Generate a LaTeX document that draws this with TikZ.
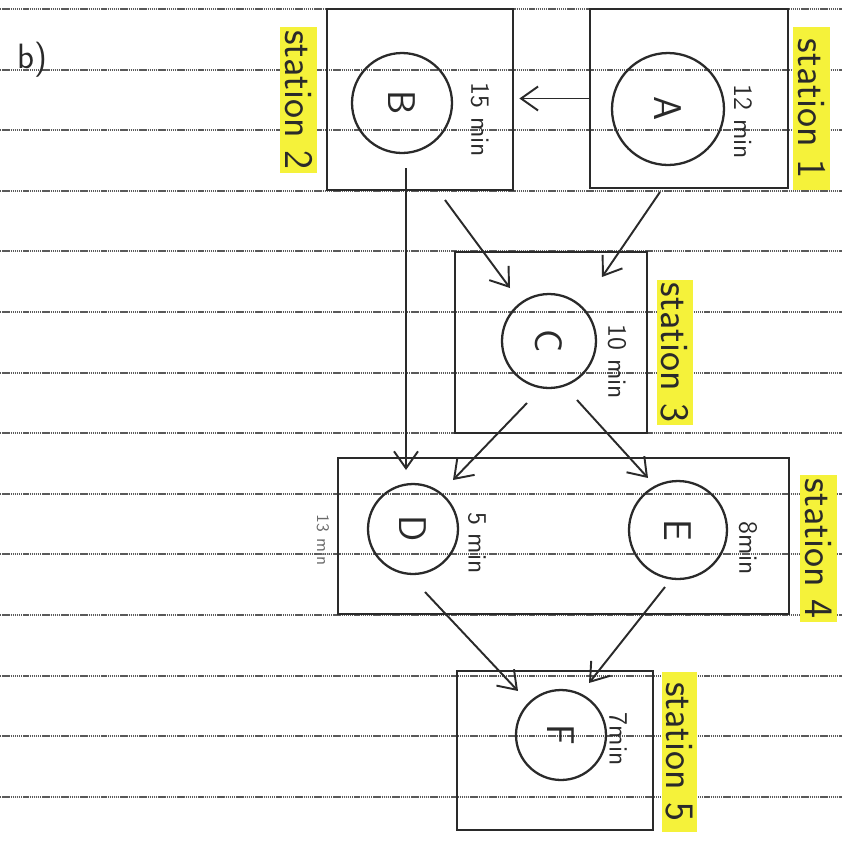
\documentclass[tikz,border=0pt]{standalone}
\usepackage{tikz}
\usepackage{xcolor}
\definecolor{pen}{HTML}{2A2A2A}
\definecolor{marker}{HTML}{F5F23A}
\definecolor{ruled}{HTML}{5A5A5A}
\usetikzlibrary{arrows.meta, positioning, calc}

\begin{document}
\begin{tikzpicture}[
        x=0.02cm, y=-0.02cm,
        station_box/.style={rectangle, draw=pen, line width=1.6pt, inner sep=0pt},
        task_node/.style={circle, draw=pen, line width=1.3pt, inner sep=0pt, text=pen, font=\sffamily\fontsize{22}{24}\selectfont, rotate=-90},
        time_label/.style={rotate=-90, inner sep=0pt, text=pen, font=\sffamily\fontsize{15}{17}\selectfont},
        station_label/.style={rectangle, fill=marker, rotate=-90, inner sep=0pt, text=pen, font=\sffamily\fontsize{23}{26}\selectfont},
        flow_arrow/.style={-{Straight Barb[length=3.4mm, width=4.8mm]}, draw=pen, line width=1.1pt},
        paper_line/.style={draw=ruled, line width=1.2pt, dash pattern=on 0.8pt off 0.4pt}
    ]
    \useasboundingbox (0,0) rectangle (842,843);

    % Ruled paper
    \foreach \k in {0,...,13}
        \draw[paper_line] (0,{9+60.6*\k}) -- (842,{9+60.6*\k});

    \node[text=pen, font=\sffamily\fontsize{20}{22}\selectfont] (part) at (32,60) {b)};

    % Stations
    \node[station_box, minimum width=3.96cm, minimum height=3.58cm] (st1) at (689,98.5) {};
    \node[station_box, minimum width=3.72cm, minimum height=3.62cm] (st2) at (420,99.5) {};
    \node[station_box, minimum width=3.84cm, minimum height=3.62cm] (st3) at (551,342.5) {};
    \node[station_box, minimum width=9.02cm, minimum height=3.12cm] (st4) at (563.5,536) {};
    \node[station_box, minimum width=3.92cm, minimum height=3.18cm] (st5) at (555,750.5) {};

    \node[station_label, minimum width=3.26cm, minimum height=0.74cm] (lab1) at (811.5,108.5) {station 1};
    \node[station_label, minimum width=2.92cm, minimum height=0.74cm] (lab2) at (298.5,100) {station 2};
    \node[station_label, minimum width=2.90cm, minimum height=0.72cm] (lab3) at (675,352.5) {station 3};
    \node[station_label, minimum width=2.94cm, minimum height=0.74cm] (lab4) at (818.5,548.5) {station 4};
    \node[station_label, minimum width=3.20cm, minimum height=0.70cm] (lab5) at (679.5,752) {station 5};

    % Tasks
    \node[task_node, minimum size=2.24cm] (A) at (668,109) {A};
    \node[task_node, minimum size=2.00cm] (B) at (402,103) {B};
    \node[task_node, minimum size=1.88cm] (C) at (549,341) {C};
    \node[task_node, minimum size=1.80cm] (D) at (413,529) {D};
    \node[task_node, minimum size=1.96cm] (E) at (678,530) {E};
    \node[task_node, minimum size=1.80cm] (F) at (561,735) {F};

    % Task times
    \node[time_label] (tA) at (743,122) {12 min};
    \node[time_label] (tB) at (480,120) {15 min};
    \node[time_label] (tC) at (617,362) {10 min};
    \node[time_label] (tD) at (477,543) {5 min};
    \node[time_label] (tE) at (748,548) {8min};
    \node[time_label] (tF) at (618,739) {7min};
    \node[time_label, text=pen!70, font=\sffamily\fontsize{10}{12}\selectfont] (tS4) at (323,540) {13 min};

    % Precedence
    \draw[flow_arrow] (st1.west) -- ($(st2.east)+(5,-1)$);
    \draw[flow_arrow] ($(B)+(43,97)$) -- ($(C)+(-39,-53)$);
    \draw[flow_arrow] ($(A)+(-8,83)$) -- ($(C)+(53,-64)$);
    \draw[flow_arrow] ($(B)+(4,65)$) -- ($(D)+(-7,-59)$);
    \draw[flow_arrow] ($(C)+(-22,62)$) -- ($(D)+(40,-49)$);
    \draw[flow_arrow] ($(C)+(28,59)$) -- ($(E)+(-30,-52)$);
    \draw[flow_arrow] ($(D)+(12,63)$) -- ($(F)+(-43,-44)$);
    \draw[flow_arrow] ($(E)+(-13,57)$) -- ($(F)+(28,-52)$);

\end{tikzpicture}
\end{document}
